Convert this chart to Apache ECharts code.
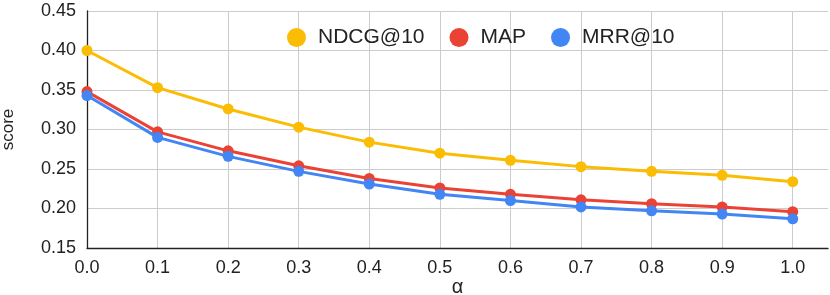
<!DOCTYPE html>
<html>
<head>
<meta charset="utf-8">
<script src="https://cdn.jsdelivr.net/npm/echarts@6/dist/echarts.min.js"></script>
<style>
html,body{margin:0;padding:0;background:#fff;}
#chart{width:830px;height:295px;}
</style>
</head>
<body>
<div id="chart"></div>
<script>
const alphas = [0.0, 0.1, 0.2, 0.3, 0.4, 0.5, 0.6, 0.7, 0.8, 0.9, 1.0];
const ndcg = [0.400, 0.353, 0.326, 0.303, 0.284, 0.270, 0.261, 0.253, 0.247, 0.242, 0.234];
const map = [0.348, 0.297, 0.273, 0.254, 0.238, 0.226, 0.218, 0.211, 0.206, 0.202, 0.196];
const mrr = [0.343, 0.290, 0.266, 0.247, 0.231, 0.218, 0.210, 0.202, 0.197, 0.193, 0.187];
const seriesNames = ['NDCG@10', 'MAP', 'MRR@10'];

const FONT = '"Liberation Sans", Arial, sans-serif';
const colors = ['#FBBC04', '#EA4335', '#4285F4'];
const pairs = arr => alphas.map((a, i) => [a, arr[i]]);

const chart = echarts.init(document.getElementById('chart'), null, {renderer: 'canvas'});
chart.setOption({
  animation: false,
  color: colors,
  textStyle: {fontFamily: FONT},
  grid: {left: 87, right: 2, top: 11, bottom: 47, containLabel: false, outerBoundsMode: 'none'},
  legend: {
    data: seriesNames,
    top: 27,
    left: 287,
    padding: 0,
    icon: 'circle',
    itemWidth: 33,
    itemHeight: 19,
    itemGap: 25,
    textStyle: {fontSize: 21, color: '#222', fontFamily: FONT}
  },
  xAxis: {
    type: 'value',
    min: 0,
    max: 1.05,
    interval: 0.1,
    name: 'α',
    nameLocation: 'middle',
    nameGap: 29,
    nameMoveOverlap: false,
    nameTextStyle: {fontSize: 20, color: '#222', fontFamily: FONT},
    axisLine: {show: true, lineStyle: {color: '#222', width: 1.3}},
    axisTick: {show: false},
    axisLabel: {
      margin: 11, fontSize: 18, color: '#222', fontFamily: FONT,
      showMaxLabel: false,
      formatter: v => (Math.abs(v * 10 - Math.round(v * 10)) < 1e-6 ? v.toFixed(1) : '')
    },
    splitLine: {show: true, showMaxLine: false, lineStyle: {color: '#cccccc', width: 1}}
  },
  yAxis: {
    type: 'value',
    min: 0.15,
    max: 0.45,
    interval: 0.05,
    name: 'score',
    nameLocation: 'middle',
    nameGap: 70,
    nameMoveOverlap: false,
    nameTextStyle: {fontSize: 17, color: '#222', fontFamily: FONT},
    axisLine: {show: true, lineStyle: {color: '#222', width: 1.3}},
    axisTick: {show: false},
    axisLabel: {margin: 11, fontSize: 18, color: '#222', fontFamily: FONT, formatter: v => v.toFixed(2)},
    splitLine: {show: true, lineStyle: {color: '#cccccc', width: 1}}
  },
  series: [
    {name: seriesNames[0], type: 'line', data: pairs(ndcg), symbol: 'circle', symbolSize: 11, lineStyle: {width: 3}, z: 2},
    {name: seriesNames[1], type: 'line', data: pairs(map), symbol: 'circle', symbolSize: 11, lineStyle: {width: 3}, z: 3},
    {name: seriesNames[2], type: 'line', data: pairs(mrr), symbol: 'circle', symbolSize: 11, lineStyle: {width: 3}, z: 4}
  ]
});
</script>
</body>
</html>
